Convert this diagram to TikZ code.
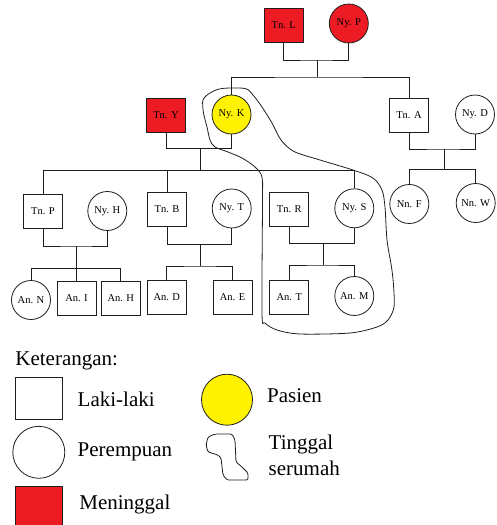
\documentclass[tikz,border=0pt]{standalone}
\usepackage{fontspec}
\setmainfont{Liberation Serif}
\usepackage{xcolor}
\definecolor{myblack}{HTML}{1E1E1E}
\definecolor{myred}{HTML}{ED1C24}
\definecolor{myyellow}{HTML}{FFF200}

\tikzset{
  male/.style={draw=myblack, fill=white, minimum width=39pt, minimum height=34pt, inner sep=0pt, font=\fontsize{10.5}{12}\selectfont},
  female/.style={draw=myblack, fill=white, circle, minimum size=39pt, inner sep=0pt, font=\fontsize{10.5}{12}\selectfont},
  dead/.style={fill=myred},
  patient/.style={fill=myyellow},
  legendtext/.style={anchor=base west, inner sep=0pt, font=\fontsize{21}{25}\selectfont},
}

\begin{document}
\begin{tikzpicture}[x=1pt, y=-1pt, line width=0.8pt, draw=myblack]
\useasboundingbox (0,0) rectangle (496,525);

% GENERATION I
\node[male, dead] (tnL) at (283.7,25) {Tn. L};
\node[female, dead] (nyP) at (348.8,23.5) {Ny. P};
\coordinate (mLP) at (317,60);
\coordinate (cLP) at (317,77);
\draw (tnL.south) |- (mLP) -| (nyP.south);
\draw (mLP) -- (cLP);

% GENERATION II
\node[male, dead] (tnY) at (166,115) {Tn. Y};
\node[female, patient] (nyK) at (231.5,114.5) {Ny. K};
\node[male] (tnA) at (409,115) {Tn. A};
\node[female] (nyD) at (475,114.5) {Ny. D};
\draw (nyK.north) |- (cLP) -| (tnA.north);

%%% couples
\coordinate (mYK) at (200,148.5);
\coordinate (cYK) at (200,170.5);
\draw (tnY.south) |- (mYK) -| (nyK.south);
\draw (mYK) -- (cYK);
\coordinate (mAD) at (444,149);
\coordinate (cAD) at (444,169.5);
\draw (tnA.south) |- (mAD) -| (nyD.south);
\draw (mAD) -- (cAD);

% GENERATION III
\node[male] (tnP) at (43,211.5) {Tn. P};
\node[female] (nyH) at (107.3,211) {Ny. H};
\node[male] (tnB) at (167,209.5) {Tn. B};
\node[female] (nyT) at (231.7,208.5) {Ny. T};
\node[male] (tnR) at (289.3,209) {Tn. R};
\node[female] (nyS) at (354.3,208.3) {Ny. S};
\node[female] (nnF) at (409.3,204) {Nn. F};
\node[female] (nnW) at (475.7,203) {Nn. W};
\draw (tnP.north) |- (cYK) -| (nyS.north);
\draw (tnB.north) -- (tnB.north |- cYK);
\draw (nnF.north) |- (cAD) -| (nnW.north);

%%% couples
\coordinate (mPH) at (76.7,246);
\coordinate (cPH) at (76.7,268.3);
\draw (tnP.south) |- (mPH) -| (nyH.south);
\draw (mPH) -- (cPH);
\coordinate (mBT) at (200.7,244.5);
\coordinate (cBT) at (200.7,266);
\draw (tnB.south) |- (mBT) -| (nyT.south);
\draw (mBT) -- (cBT);
\coordinate (mRS) at (323.3,243.5);
\coordinate (cRS) at (323.3,265);
\draw (tnR.south) |- (mRS) -| (nyS.south);
\draw (mRS) -- (cRS);

% GENERATION IV
\node[female] (anN) at (31,300) {An. N};
\node[male] (anI) at (76.5,298.3) {An. I};
\node[male] (anH) at (120.8,298.3) {An. H};
\node[male] (anD) at (166.8,297.2) {An. D};
\node[male] (anE) at (232.5,297.2) {An. E};
\node[male] (anT) at (289.3,297.5) {An. T};
\node[female] (anM) at (354.3,296) {An. M};
\draw (anN.north) |- (cPH) -| (anH.north);
\draw (anI.north) -- (anI.north |- cPH);
\draw (anD.north) |- (cBT) -| (anE.north);
\draw (anT.north) |- (cRS) -| (anM.north);

% TINGGAL SERUMAH (OUTLINE)
\draw[myblack, line join=round] plot[smooth cycle, tension=0.5] coordinates {
  (203,100) (210,93) (222,88.5) (245,88.5) (253,95) (262,107) (272,123)
  (281,140) (294,151.5) (320,160) (353,170) (373,178) (382,190) (385,207)
  (387,240) (391.5,267) (393.5,285) (394,307) (388,320) (377,327) (350,333)
  (300,334) (277,330) (265,323) (262,313) (262.5,200) (262,177) (255,167)
  (242,158) (228,152) (215,147) (210,140) (207,127) (203.5,113)};

% LEGEND
\node[legendtext] (ket) at (15,365) {Keterangan:};
\node[draw=myblack, fill=white, minimum width=46.6pt, minimum height=41.6pt, inner sep=0pt] (lgMale) at (39,398.5) {};
\node[legendtext] (txMale) at (77.3,406) {Laki-laki};
\node[draw=myblack, fill=white, circle, minimum size=52pt, inner sep=0pt] (lgFemale) at (38.8,452.3) {};
\node[legendtext] (txFemale) at (77.3,456) {Perempuan};
\draw[myblack, fill=myred] (15.7,486.7) rectangle (62.3,530);
\node[legendtext] (txDead) at (79,509.3) {Meninggal};
\node[draw=myblack, fill=myyellow, circle, minimum size=51pt, inner sep=0pt] (lgPatient) at (227,399.7) {};
\node[legendtext] (txPatient) at (266.7,402.7) {Pasien};
\draw[myblack, rounded corners=1.5pt] (208,437) -- (215,434) -- (232,434) -- (235,440) -- (236,462)
  -- (242,467) -- (248,473) -- (248,480) -- (227,480) -- (223,475) -- (221,458) -- (218,455)
  -- (208,452) -- (206,445) -- cycle;
\node[legendtext] (txHouse) at (268.3,449.3) {Tinggal};
\node[legendtext] (txHouseB) at (268.3,475) {serumah};

\end{tikzpicture}
\end{document}
